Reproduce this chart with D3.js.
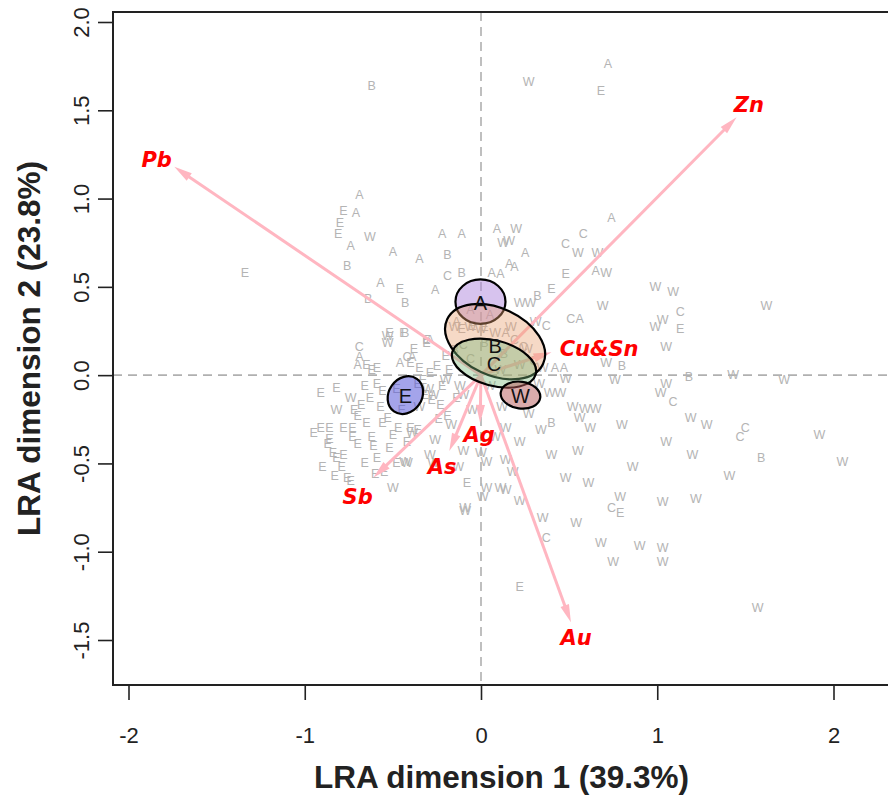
<!DOCTYPE html>
<html>
<head>
<meta charset="utf-8">
<script src="https://cdnjs.cloudflare.com/ajax/libs/d3/7.8.5/d3.min.js"></script>
<style>
  body { margin: 0; background: #fff; }
  svg { display: block; }
</style>
</head>
<body>
<svg width="888" height="796"></svg>
<script>
// sample scores, one list per group letter
var ptsA = [[0.72,1.76],[-0.69,1.02],[-0.71,0.92],[-0.74,0.73],[-0.22,0.80],[-0.11,0.80],[0.09,0.83],[0.74,0.89],
  [-0.50,0.70],[-0.35,0.66],[0.25,0.69],[0.16,0.63],[0.19,0.61],[0.06,0.58],[0.11,0.57],[0.65,0.59],[-0.57,0.52],
  [-0.26,0.48],[0.56,0.32],[0.42,0.04],[0.47,0.04],[-0.69,0.10],[-0.70,0.06],[-0.46,0.07],[-0.39,0.10],[-0.29,0.20],
  [-0.06,0.37],[0.05,0.34],[-0.14,0.30],[0.14,0.24]];
var ptsB = [[-0.62,1.64],[-0.76,0.62],[-0.19,0.68],[-0.11,0.58],[-0.43,0.41],[0.32,0.45],[0.80,0.05],[1.18,-0.01],
  [1.59,-0.47],[0.40,-0.27],[-0.43,0.24],[-0.64,0.43],[-0.15,0.14],[0.02,0.18],[0.13,0.12]];
var ptsC = [[0.58,0.80],[0.48,0.74],[-0.19,0.56],[0.51,0.32],[0.37,0.28],[-0.69,0.16],[1.13,0.36],[1.09,-0.15],
  [1.50,-0.30],[1.47,-0.35],[0.74,-0.75],[0.37,-0.92],[-0.42,0.10],[0.19,0.20],[-0.06,0.09],[0.24,0.16],
  [0.30,0.08],[-0.10,0.17]];
var ptsE = [[0.68,1.61],[-0.78,0.93],[-0.80,0.86],[-0.81,0.80],[-1.34,0.58],[-0.46,0.49],[0.48,0.57],[0.40,0.49],
  [1.13,0.26],[-0.31,0.20],[-0.52,0.24],[-0.44,0.24],[-0.31,0.18],[-0.65,0.06],[-0.62,0.03],[-0.59,0.04],
  [-0.91,-0.10],[-0.82,-0.07],[-0.66,-0.06],[-0.59,-0.05],[-0.56,-0.09],[-0.68,-0.17],[-0.72,-0.20],
  [-0.91,-0.30],[-0.86,-0.30],[-0.78,-0.30],[-0.73,-0.30],[-0.65,-0.27],[-0.56,-0.27],[-0.47,-0.30],
  [-0.73,-0.35],[-0.62,-0.35],[-0.50,-0.34],[-0.87,-0.39],[-0.84,-0.44],[-0.70,-0.39],[-0.61,-0.40],
  [-0.52,-0.41],[-0.82,-0.47],[-0.90,-0.52],[-0.79,-0.52],[-0.59,-0.47],[-0.48,-0.50],[-0.76,-0.58],
  [-0.60,-0.56],[-0.83,-0.57],[-0.74,-0.60],[-0.08,-0.61],[0.79,-0.78],[0.22,-1.20],[-0.40,0.07],[-0.35,0.04],
  [-0.29,0.01],[-0.57,-0.18],[-0.53,-0.24],[-0.40,-0.30],[-0.36,-0.31],[-0.25,0.05],[-0.33,-0.03],
  [-0.22,-0.06],[-0.23,-0.17],[-0.19,-0.23],[-0.32,-0.11],[-0.11,0.26],[-0.20,0.11],
  [-0.38,0.15],[-0.36,-0.05],[-0.28,-0.14],[-0.24,-0.25],[-0.45,-0.20],[-0.42,-0.38],[-0.55,-0.55],
  [-0.66,-0.50],[-0.86,-0.36],[-0.78,-0.45],[-0.95,-0.33],[-0.70,-0.23],[-0.63,-0.13],[-0.48,-0.08],
  [-0.18,0.03],[-0.14,-0.13],[-0.05,0.28],[0.02,0.27]];
var ptsW = [[0.27,1.66],[-0.63,0.78],[0.20,0.83],[0.16,0.76],[0.125,0.75],[0.55,0.69],[0.66,0.69],[0.71,0.58],
  [0.22,0.41],[0.28,0.41],[0.69,0.39],[0.31,0.30],[0.71,0.07],[0.48,-0.02],[0.76,-0.03],[0.39,-0.10],[0.45,-0.10],
  [-0.20,-0.03],[-0.27,-0.11],[-0.10,-0.11],[0.52,-0.18],[0.59,-0.19],[0.65,-0.19],[0.56,-0.24],[0.34,-0.31],
  [0.14,-0.30],[0.22,-0.38],[0.55,-0.43],[0.80,-0.28],[-0.39,-0.33],[-0.26,-0.37],[-0.10,-0.43],[0.00,-0.44],
  [0.14,-0.48],[0.03,-0.49],[-0.43,-0.49],[0.99,0.50],[1.09,0.47],[1.62,0.39],[1.03,0.31],[0.99,0.27],
  [1.05,0.16],[1.43,0.00],[1.72,-0.03],[1.05,-0.05],[1.02,-0.10],[1.19,-0.24],[1.28,-0.28],[1.05,-0.38],
  [1.92,-0.34],[1.20,-0.45],[2.05,-0.49],[0.86,-0.52],[1.41,-0.57],[1.03,-0.72],[1.22,-0.70],[0.90,-0.97],
  [1.03,-0.98],[1.03,-1.06],[1.57,-1.32],[-0.50,-0.64],[0.03,-0.64],[0.11,-0.64],[0.14,-0.65],[0.01,-0.69],
  [-0.09,-0.77],[-0.09,-0.75],[0.22,-0.71],[0.48,-0.58],[0.61,-0.61],[0.79,-0.69],[0.35,-0.81],[0.54,-0.84],
  [0.68,-0.95],[0.75,-1.06],[-0.74,-0.13],[-0.82,-0.20],[-0.53,0.22],[-0.53,0.18],[-0.42,-0.50],[-0.29,-0.45],
  [-0.27,-0.50],[-0.15,0.27],[-0.06,0.27],[0.00,0.26],[0.08,0.24],[0.11,0.03],[0.22,0.06],[-0.12,-0.06],
  [-0.30,-0.08],[0.05,-0.06],[0.12,-0.18],[0.27,-0.22],[0.33,-0.05],[-0.05,-0.20],[-0.17,-0.28],[0.08,-0.35],
  [0.17,0.27],[0.26,0.15],[0.35,0.04],[-0.35,-0.18],[-0.13,-0.52],[0.40,-0.45],[0.62,-0.30],[0.18,-0.55]];

// variable arrows (tips) and label anchors
var arrowNames = ["Pb", "Zn", "Au", "Sb", "As", "Ag", "Cu&Sn"];
var arrowX = [-1.74, 1.45, 0.51, -0.61, -0.18, -0.005, 0.40];
var arrowY = [1.18, 1.46, -1.40, -0.58, -0.43, -0.27, 0.13];
var labelX = [-1.84, 1.52, 0.54, -0.70, -0.22, -0.01, 0.67];
var labelY = [1.22, 1.53, -1.49, -0.69, -0.52, -0.34, 0.15];

// group confidence ellipses
var ellNames = ["A", "B", "C", "W", "E"];
var ellCx = [-0.003, 0.08, 0.074, 0.224, -0.429];
var ellCy = [0.416, 0.19, 0.068, -0.113, -0.113];
var ellRx = [0.142, 0.30, 0.245, 0.113, 0.113];
var ellRy = [0.126, 0.19, 0.128, 0.076, 0.094];
var ellAngle = [0, -25, -15, -8, 55];
var ellFill = ["#b088dd", "#e8a070", "#7ab87a", "#b85a5a", "#5a5ad8"];
var ellOpacity = [0.5, 0.4, 0.4, 0.5, 0.55];

var xTicks = [-2, -1, 0, 1, 2];
var yTicks = [-1.5, -1.0, -0.5, 0.0, 0.5, 1.0, 1.5, 2.0];

var svg = d3.select("svg");
var box = {left: 113, top: 12, right: 890, bottom: 685};

var x = d3.scaleLinear().domain([-2, 2]).range([128.5, 833.5]);
var y = d3.scaleLinear().domain([-1.5, 2]).range([640, 22]);

// dashed reference lines through origin
svg.append("line")
    .attr("x1", box.left).attr("x2", box.right)
    .attr("y1", y(0)).attr("y2", y(0))
    .attr("stroke", "#b0b0b0").attr("stroke-width", 1.6).attr("stroke-dasharray", "9,6");
svg.append("line")
    .attr("x1", x(0)).attr("x2", x(0))
    .attr("y1", box.top).attr("y2", box.bottom)
    .attr("stroke", "#b0b0b0").attr("stroke-width", 1.6).attr("stroke-dasharray", "9,6");

// points as group letters
var groups = [["A", ptsA], ["B", ptsB], ["C", ptsC], ["E", ptsE], ["W", ptsW]];
var pts = svg.append("g")
    .attr("font-family", "'Liberation Sans', Arial, sans-serif")
    .attr("font-size", 12.5)
    .attr("fill", "#b4b4b4")
    .attr("text-anchor", "middle")
    .attr("dominant-baseline", "central");
groups.forEach(function(g) {
  pts.selectAll(null).data(g[1]).enter().append("text")
      .attr("x", function(d) { return x(d[0]); })
      .attr("y", function(d) { return y(d[1]); })
      .text(g[0]);
});

// arrows
var arrows = svg.append("g");
arrowNames.forEach(function(name, i) {
  var ox = x(0), oy = y(0), tx = x(arrowX[i]), ty = y(arrowY[i]);
  var len = Math.sqrt((tx - ox) * (tx - ox) + (ty - oy) * (ty - oy));
  var ux = (tx - ox) / len, uy = (ty - oy) / len;
  var bx = tx - 18 * ux, by = ty - 18 * uy;
  arrows.append("line")
      .attr("x1", ox).attr("y1", oy).attr("x2", bx + 4 * ux).attr("y2", by + 4 * uy)
      .attr("stroke", "#ffb6c1").attr("stroke-width", 3);
  arrows.append("path")
      .attr("d", "M" + tx + "," + ty +
        "L" + (bx - 4.5 * uy) + "," + (by + 4.5 * ux) +
        "L" + (bx + 4.5 * uy) + "," + (by - 4.5 * ux) + "Z")
      .attr("fill", "#ffb6c1");
});

// ellipses
var ell = svg.append("g");
ellNames.forEach(function(name, i) {
  var cx = x(ellCx[i]), cy = y(ellCy[i]);
  ell.append("ellipse")
      .attr("transform", "translate(" + cx + "," + cy + ") rotate(" + (-ellAngle[i]) + ")")
      .attr("rx", ellRx[i] * (x(1) - x(0)))
      .attr("ry", ellRy[i] * (y(0) - y(1)))
      .attr("fill", ellFill[i]).attr("fill-opacity", ellOpacity[i])
      .attr("stroke", "#000").attr("stroke-width", 2.2);
});
ellNames.forEach(function(name, i) {
  ell.append("text")
      .attr("x", x(ellCx[i]))
      .attr("y", y(ellCy[i]) + (name === "B" ? 4 : 1))
      .attr("text-anchor", "middle").attr("dominant-baseline", "central")
      .attr("font-family", "'Liberation Sans', Arial, sans-serif")
      .attr("font-size", 20).attr("fill", "#111")
      .text(name);
});

// arrow labels
svg.append("g").selectAll("text").data(arrowNames).enter().append("text")
    .attr("x", function(d, i) { return x(labelX[i]); })
    .attr("y", function(d, i) { return y(labelY[i]); })
    .attr("text-anchor", "middle").attr("dominant-baseline", "central")
    .attr("font-family", "'DejaVu Sans', Verdana, sans-serif")
    .attr("font-weight", "bold").attr("font-style", "italic")
    .attr("font-size", 21).attr("fill", "#ff0000")
    .text(function(d) { return d; });

// frame
svg.append("rect")
    .attr("x", box.left).attr("y", box.top)
    .attr("width", box.right - box.left).attr("height", box.bottom - box.top)
    .attr("fill", "none").attr("stroke", "#222").attr("stroke-width", 2);

// axes
var xAxis = svg.append("g")
    .attr("transform", "translate(0," + box.bottom + ")")
    .call(d3.axisBottom(x).tickValues(xTicks).tickSize(15).tickSizeOuter(0)
      .tickFormat(function(d) { return String(d); }));
var yAxis = svg.append("g")
    .attr("transform", "translate(" + box.left + ",0)")
    .call(d3.axisLeft(y).tickValues(yTicks).tickSize(15).tickSizeOuter(0)
      .tickFormat(function(d) { return d.toFixed(1); }));

[xAxis, yAxis].forEach(function(a) {
  a.select(".domain").remove();
  a.selectAll(".tick line").attr("stroke", "#222").attr("stroke-width", 1.6);
  a.selectAll(".tick text")
      .attr("font-family", "'Liberation Sans', Arial, sans-serif")
      .attr("font-size", 22).attr("fill", "#222");
});
xAxis.selectAll(".tick text").attr("y", 42);
yAxis.selectAll(".tick text")
    .attr("x", null).attr("dy", null)
    .attr("text-anchor", "middle").attr("dominant-baseline", "central")
    .attr("transform", "translate(-32,0) rotate(-90)");

// axis titles
svg.append("text")
    .attr("x", (box.left + box.right) / 2).attr("y", 788)
    .attr("text-anchor", "middle")
    .attr("font-family", "'Liberation Sans', Arial, sans-serif")
    .attr("font-weight", "bold").attr("font-size", 31.5).attr("fill", "#222")
    .text("LRA dimension 1 (39.3%)");
svg.append("text")
    .attr("transform", "translate(40," + (box.top + box.bottom) / 2 + ") rotate(-90)")
    .attr("text-anchor", "middle")
    .attr("font-family", "'Liberation Sans', Arial, sans-serif")
    .attr("font-weight", "bold").attr("font-size", 31.5).attr("fill", "#222")
    .text("LRA dimension 2 (23.8%)");
</script>
</body>
</html>
